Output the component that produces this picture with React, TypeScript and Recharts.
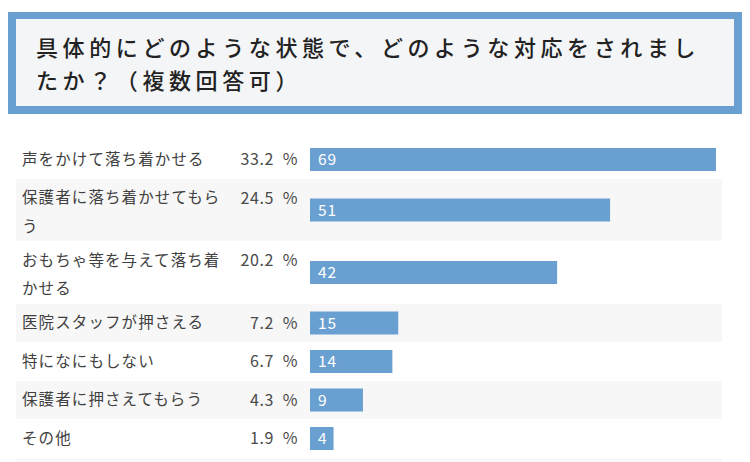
import React from 'react';
import { BarChart, Bar, XAxis, YAxis, CartesianGrid, LabelList } from 'recharts';

const titleLines = ['具体的にどのような状態で、どのような対応をされまし', 'たか？（複数回答可）'];

const categories = [
  '声をかけて落ち着かせる',
  '保護者に落ち着かせてもらう',
  'おもちゃ等を与えて落ち着かせる',
  '医院スタッフが押さえる',
  '特になにもしない',
  '保護者に押さえてもらう',
  'その他',
];
const percents = [33.2, 24.5, 20.2, 7.2, 6.7, 4.3, 1.9];
const counts = [69, 51, 42, 15, 14, 9, 4];

const CHART_W = 750;
const CHART_H = 462;
const TOP = 140;
const PLOT_H = CHART_H - TOP;
const CHARS_PER_LINE = 12;
const ROW_H = 38.5;
const EXTRA_LINE_H = 24;
const LINE_H = 28.5;
const BAR_COLOR = '#6a9fd1';
const FONT = '"Noto Sans CJK JP", "Noto Sans", sans-serif';

const wrap = (s: string) => {
  const out: string[] = [];
  for (let i = 0; i < s.length; i += CHARS_PER_LINE) out.push(s.slice(i, i + CHARS_PER_LINE));
  return out;
};

// row layout: two-line labels make taller rows
let acc = 0;
const rows = categories.map((name, i) => {
  const lines = wrap(name);
  const h = ROW_H + (lines.length - 1) * EXTRA_LINE_H;
  const row = { name, lines, pct: percents[i], count: counts[i], top: acc, h, pos: acc + h / 2 };
  acc += h;
  return row;
});
// y axis domain is 1 unit = 1px, so stripe edges sit at TOP + boundary
const stripeEdges = [0, ...rows.map(r => r.top + r.h)].map(b => TOP + b);

const RowTick = (props: any) => {
  const { y, payload } = props;
  const row = rows.find(r => Math.abs(r.pos - payload.value) < 0.01);
  if (!row) return null;
  const firstY = y - row.h / 2 + ROW_H / 2;
  return (
    <g fontFamily={FONT}>
      <text x={22} y={firstY} fontSize={15.5} fill="#404040" letterSpacing={1.1}>
        {row.lines.map((l, i) => (
          <tspan key={i} x={22} y={firstY + i * LINE_H} dy="0.36em">{l}</tspan>
        ))}
      </text>
      <text x={298} y={firstY} dy="0.36em" textAnchor="end" fontSize={16} fill="#4a4a4a" letterSpacing={0.6}>
        {row.pct.toFixed(1) + '\u2002%'}
      </text>
    </g>
  );
};

const App = () => {
  return (
    <div style={{ position: 'absolute', left: 0, top: 0, width: CHART_W, height: CHART_H, background: '#fff' }}>
      <BarChart
        width={CHART_W}
        height={CHART_H}
        data={rows}
        layout="vertical"
        margin={{ top: TOP, right: 34, bottom: 0, left: 0 }}
      >
        <CartesianGrid
          vertical={false}
          stroke="none"
          x={16}
          width={706}
          horizontalFill={['#ffffff', '#f7f7f7']}
          horizontalPoints={stripeEdges}
        />
        <XAxis type="number" domain={[0, Math.max(...counts)]} hide />
        <YAxis
          type="number"
          dataKey="pos"
          domain={[0, PLOT_H]}
          allowDataOverflow
          ticks={rows.map(r => r.pos)}
          interval={0}
          width={310}
          axisLine={false}
          tickLine={false}
          tick={(p: any) => <RowTick {...p} />}
        />
        <Bar dataKey="count" fill={BAR_COLOR} barSize={23} isAnimationActive={false}>
          <LabelList dataKey="count" position="insideLeft" offset={8} fill="#ffffff" fontSize={15.5} fontFamily={FONT} letterSpacing={0.8} />
        </Bar>
      </BarChart>
      <div
        style={{
          position: 'absolute',
          left: 8,
          top: 12,
          width: 734,
          height: 102,
          boxSizing: 'border-box',
          border: '8px solid #6a9fd2',
          borderTopWidth: 7,
          background: '#f4f5f7',
          padding: '11px 0 0 20px',
          fontFamily: FONT,
          fontSize: 22,
          fontWeight: 500,
          letterSpacing: 4.6,
          lineHeight: '33px',
          color: '#222',
          whiteSpace: 'nowrap',
        }}
      >
        {titleLines.map((l, i) => (
          <div key={i}>{l}</div>
        ))}
      </div>
    </div>
  );
};

export default App;
